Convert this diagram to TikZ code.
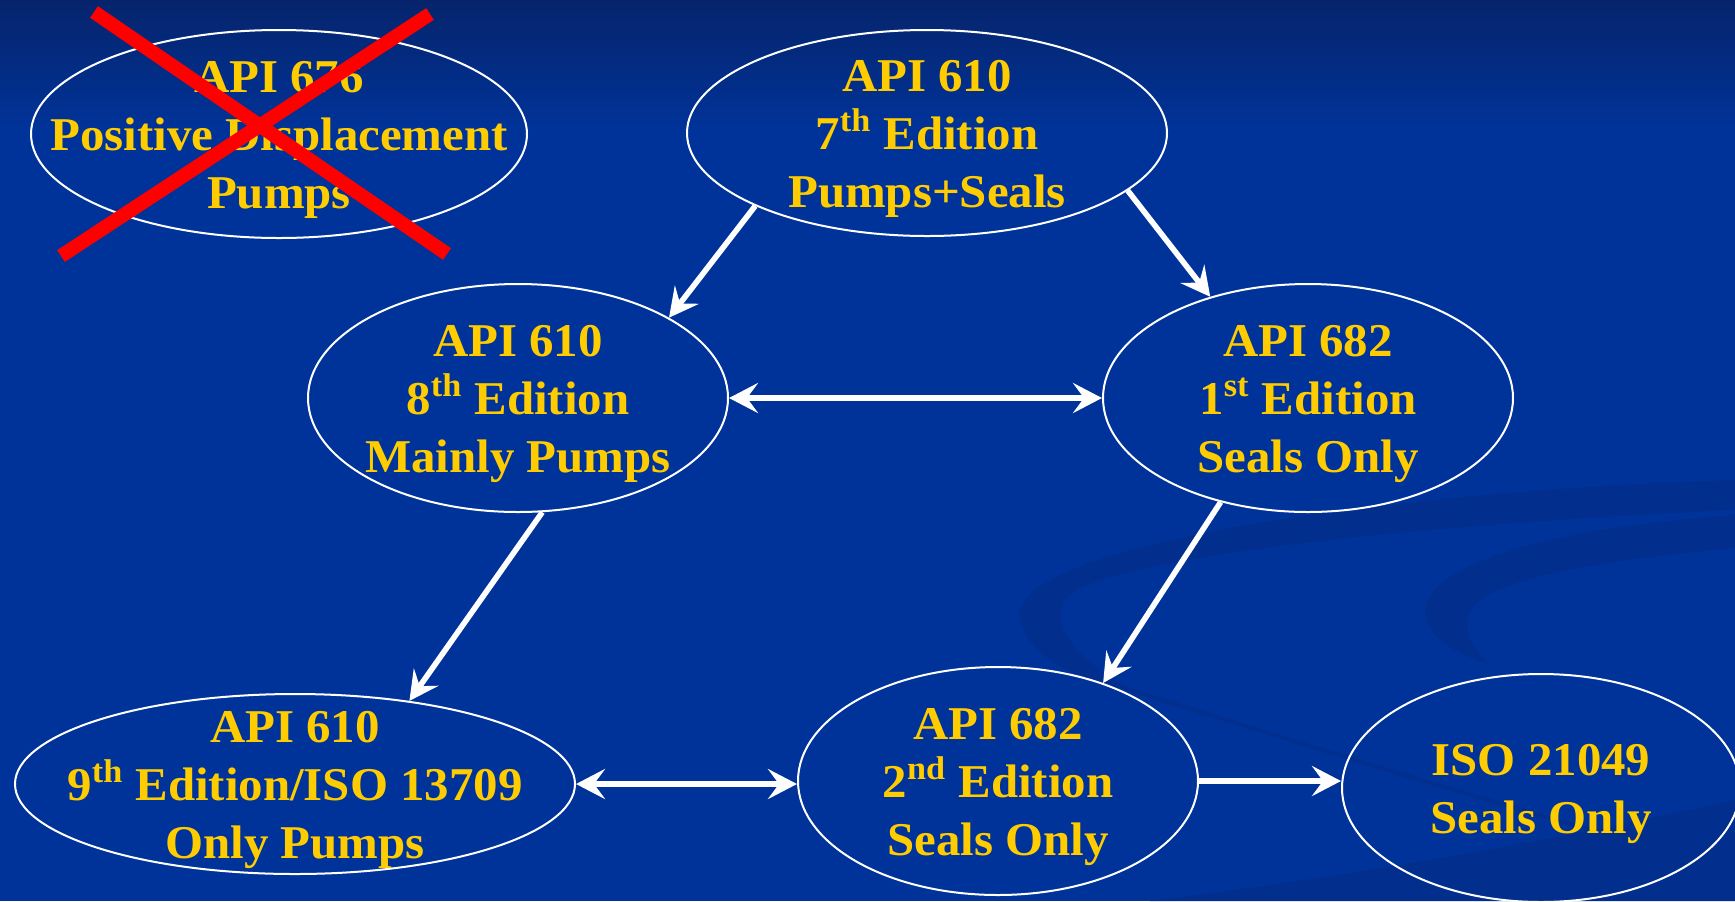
\documentclass[tikz,border=0pt]{standalone}
\usepackage{fontspec}
\setmainfont{Liberation Serif}[FakeStretch=1.04]
\usetikzlibrary{shapes.geometric,arrows.meta}
\definecolor{slideblue}{RGB}{0,51,153}
\definecolor{slidetop}{RGB}{6,36,108}
\definecolor{swooshblue}{RGB}{2,46,142}
\definecolor{gold}{RGB}{255,204,0}
\definecolor{crossred}{RGB}{255,0,0}
\pgfdeclarelayer{bg}
\pgfsetlayers{bg,main}

\begin{document}
\begin{tikzpicture}[x=0.5pt,y=-0.5pt,
        >={Stealth[length=14.5pt,width=15pt,inset=5.5pt]},
        oval/.style={ellipse, draw=white, line width=1pt, inner sep=0pt},
        stdtext/.style={text=gold, font=\bfseries\fontsize{23.5}{29}\selectfont, align=center, yshift=-3pt},
        link/.style={draw=white, line width=2.8pt},
        cross/.style={draw=crossred, line width=7pt}]
        \useasboundingbox (0,0) rectangle (1735,901);
        \node (api676) [oval, minimum width=248pt, minimum height=104pt,
                label={[stdtext]center:{API 676\\Positive Displacement\\Pumps}}] at (279, 134) {};
        \node (api610a) [oval, minimum width=240pt, minimum height=103pt,
                label={[stdtext]center:{API 610\\7\textsuperscript{th} Edition\\Pumps+Seals}}] at (927, 133) {};
        \node (api610b) [oval, minimum width=210pt, minimum height=114pt,
                label={[stdtext]center:{API 610\\8\textsuperscript{th} Edition\\Mainly Pumps}}] at (518, 398) {};
        \node (api682a) [oval, minimum width=205pt, minimum height=114pt,
                label={[stdtext]center:{API 682\\1\textsuperscript{st} Edition\\Seals Only}}] at (1308, 398) {};
        \node (api610c) [oval, minimum width=280pt, minimum height=90pt,
                label={[stdtext]center:{API 610\\9\textsuperscript{th} Edition/ISO 13709\\Only Pumps}}] at (295, 784) {};
        \node (api682b) [oval, minimum width=200pt, minimum height=114pt,
                label={[stdtext]center:{API 682\\2\textsuperscript{nd} Edition\\Seals Only}}] at (998, 781) {};
        \node (iso) [oval, minimum width=199pt, minimum height=114pt,
                label={[stdtext]center:{ISO 21049\\Seals Only}}] at (1541, 788) {};
        % crossed out
        \coordinate (x1) at (94, 12);
        \coordinate (x2) at (447, 254);
        \coordinate (x3) at (430, 14);
        \coordinate (x4) at (61, 256);
        \draw [cross] (x1) -- (x2);
        \draw [cross] (x3) -- (x4);
        \draw [link, ->] (api610a.203) -- (api610b.28);
        \draw [link, ->] (api610a.-16) -- (api682a.134);
        \draw [link, <->] (api610b.east) -- (api682a.west);
        \draw [link, ->] (api610b.-78) -- (api610c.36);
        \draw [link, ->] (api682a.-130) -- (api682b.43);
        \draw [link, <->] (api610c.east) -- (api610c.east -| api682b.west);
        \draw [link, ->] (api682b.east) -- (api682b.east -| iso.west);
        \begin{pgfonlayer}{bg}
                \fill [slideblue] (0,0) rectangle (1735,901);
                \shade [top color=slidetop, bottom color=slideblue] (0,0) rectangle (1735,130);
                \fill [swooshblue] (1735,480) .. controls (1400,490) and (1000,545) .. (1020,620)
                        .. controls (1030,660) and (1080,680) .. (1130,690)
                        .. controls (1080,660) and (1050,630) .. (1065,600)
                        .. controls (1090,560) and (1400,525) .. (1735,510) -- cycle;
                \fill [swooshblue] (1735,515) .. controls (1550,528) and (1420,565) .. (1425,615)
                        .. controls (1430,640) and (1460,655) .. (1490,665)
                        .. controls (1470,645) and (1460,625) .. (1475,605)
                        .. controls (1500,578) and (1600,560) .. (1735,548) -- cycle;
                \draw [swooshblue, line width=2pt] (1100,680) .. controls (1350,760) and (1550,820) .. (1735,870);
                \fill [swooshblue] (1150,901) .. controls (1400,870) and (1600,830) .. (1735,800) -- (1735,901) -- cycle;
        \end{pgfonlayer}
\end{tikzpicture}
\end{document}
